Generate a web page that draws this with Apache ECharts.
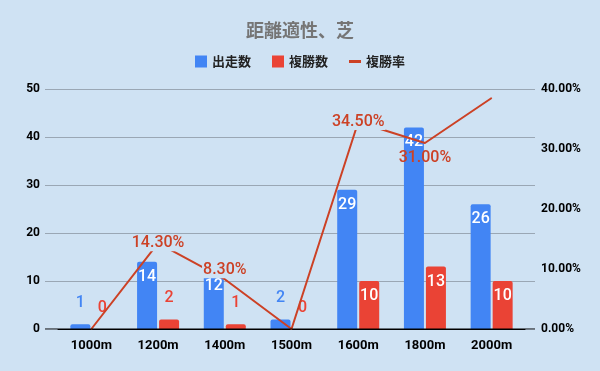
<!DOCTYPE html>
<html><head><meta charset="utf-8">
<script src="https://cdn.jsdelivr.net/npm/echarts@6/dist/echarts.min.js"></script>
<style>html,body{margin:0;padding:0;background:#cfe2f3;}#c{width:600px;height:371px;}</style>
</head><body><div id="c"></div>
<script>
var categories = ['1000m','1200m','1400m','1500m','1600m','1800m','2000m'];
var starts = [1,14,12,2,29,42,26];
var places = [0,2,1,0,10,13,10];
var rates = [0,0.143,0.083,0,0.345,0.31,0.385];
var leftTicks = [0,10,20,30,40,50];
var rightTicks = [0,0.1,0.2,0.3,0.4];

var BG = '#cfe2f3', BLUE = '#4285f4', RED = '#ea4335', LINE = '#cc4125';
var numFont = 'Roboto, "Liberation Sans", sans-serif';
var cjk = '"Noto Sans CJK JP", "Noto Sans", sans-serif';

function barData(vals, color, threshold) {
  return vals.map(function (v) {
    var inside = v >= threshold;
    return {
      value: v,
      label: inside
        ? {show: true, position: 'insideTop', distance: 7, color: '#ffffff'}
        : {show: true, position: 'top', distance: 13, color: color}
    };
  });
}
var lineLabelCfg = {1: [0,0], 2: [0,-9], 4: [0,0], 5: [0,15]};
var lineData = rates.map(function (v, i) {
  var cfg = lineLabelCfg[i];
  if (!cfg) return {value: v, label: {show: false}};
  return {value: v, label: {show: true, offset: cfg, backgroundColor: i === 5 ? 'transparent' : BG, padding: [0,1]}};
});

var chart = echarts.init(document.getElementById('c'), null, {renderer: 'canvas'});
chart.setOption({
  backgroundColor: BG,
  animation: false,
  title: {text: '距離適性、芝', left: 'center', top: 16,
    textStyle: {fontFamily: cjk, fontSize: 18, fontWeight: 'bold', color: '#757575'}},
  legend: {top: 50, left: 'center', itemWidth: 12, itemHeight: 12, itemGap: 21,
    textStyle: {fontFamily: cjk, fontSize: 13, fontWeight: 'bold', color: '#222'},
    data: [{name: '出走数', icon: 'rect'}, {name: '複勝数', icon: 'rect'},
           {name: '複勝率', icon: 'path://M0,5L12,5L12,8L0,8Z'}]},
  grid: [
    {left: 45, right: 65, top: 89, bottom: 42},
    {left: 58, right: 75, top: 89, bottom: 42}
  ],
  xAxis: [
    {type: 'value', gridIndex: 0, min: 0, max: 1, show: true,
      axisLine: {show: false}, axisTick: {show: false}, axisLabel: {show: false}, splitLine: {show: false}},
    {type: 'category', gridIndex: 1, data: categories,
      axisLine: {show: true, onZero: false, lineStyle: {color: '#000', width: 1}},
      axisTick: {show: false},
      axisLabel: {margin: 10, color: '#000', fontFamily: numFont, fontWeight: 'bold', fontSize: 13}}
  ],
  yAxis: [
    {type: 'value', gridIndex: 0, min: 0, max: 50, interval: 10,
      axisLine: {show: false}, axisTick: {show: false},
      axisLabel: {margin: 5, color: '#000', fontFamily: numFont, fontWeight: 'bold', fontSize: 12},
      splitLine: {show: true, lineStyle: {color: '#9aa7b4', width: 1}}},
    {type: 'value', gridIndex: 1, min: 0, max: 50, interval: 10, show: false, splitLine: {show: false}},
    {type: 'value', gridIndex: 1, position: 'right', min: 0, max: 0.4, interval: 0.1,
      axisLine: {show: false}, axisTick: {show: false}, splitLine: {show: false},
      axisLabel: {margin: 16, color: '#000', fontFamily: numFont, fontWeight: 'bold', fontSize: 12,
        formatter: function (v) { return (v * 100).toFixed(2) + '%'; }}}
  ],
  series: [
    {name: '_base', type: 'line', xAxisIndex: 0, yAxisIndex: 0, data: [[0,0],[1,0]],
      symbol: 'none', lineStyle: {color: '#000', width: 1}, silent: true, z: 5},
    {name: '出走数', type: 'bar', xAxisIndex: 1, yAxisIndex: 1, barWidth: 20, barGap: '10%',
      itemStyle: {color: BLUE, borderRadius: [2,2,0,0]},
      label: {fontFamily: numFont, fontSize: 16, fontWeight: 500},
      data: barData(starts, BLUE, 10), z: 2},
    {name: '複勝数', type: 'bar', xAxisIndex: 1, yAxisIndex: 1, barWidth: 20, barGap: '10%',
      itemStyle: {color: RED, borderRadius: [2,2,0,0]},
      label: {fontFamily: numFont, fontSize: 16, fontWeight: 500},
      data: barData(places, RED, 10), z: 2},
    {name: '複勝率', type: 'line', xAxisIndex: 1, yAxisIndex: 2, data: lineData,
      symbol: 'circle', symbolSize: 1, showSymbol: true,
      itemStyle: {color: LINE}, lineStyle: {color: LINE, width: 2},
      label: {position: 'inside', color: LINE, fontFamily: numFont, fontSize: 16, fontWeight: 500,
        formatter: function (p) { return (p.value * 100).toFixed(2) + '%'; }},
      z: 4}
  ]
});
</script></body></html>
